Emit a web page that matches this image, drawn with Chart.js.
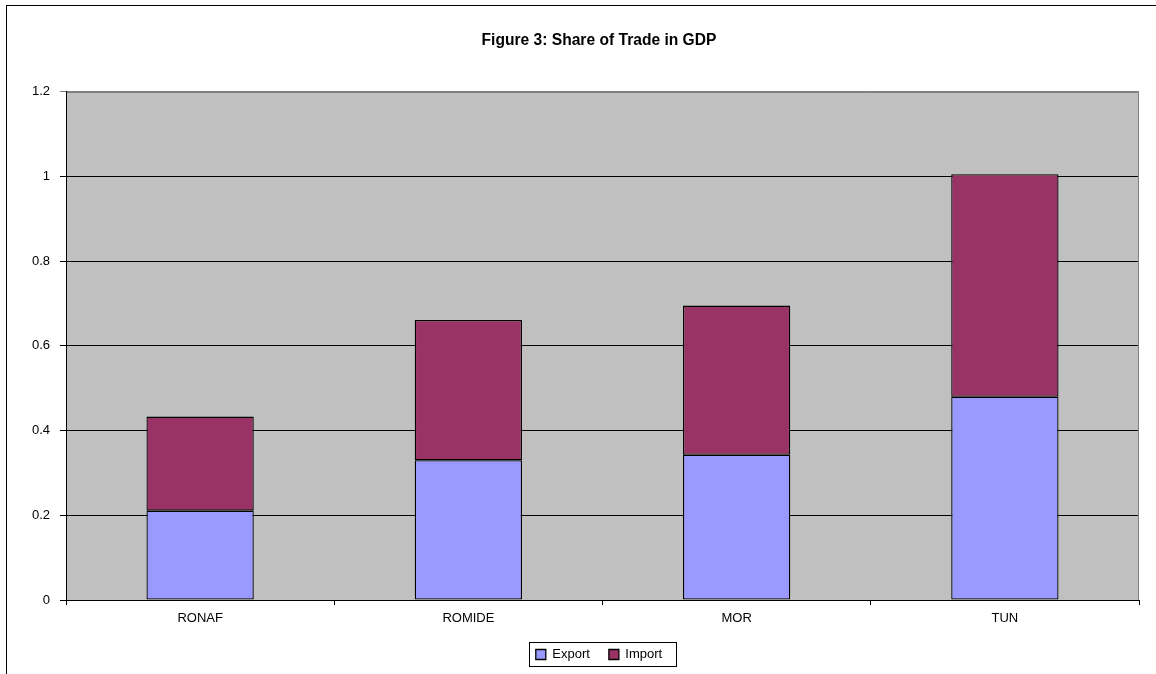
<!DOCTYPE html>
<html>
<head>
<meta charset="utf-8">
<script src="https://cdn.jsdelivr.net/npm/chart.js@4/dist/chart.umd.min.js"></script>
<style>
  html, body { margin: 0; padding: 0; background: #fff; overflow: hidden; }
  #wrap { width: 1197px; height: 674px; }
</style>
</head>
<body>
<div id="wrap"><canvas id="trade" width="1197" height="674"></canvas></div>
<script>
var regions = ['RONAF', 'ROMIDE', 'MOR', 'TUN'];
var exportShare = [0.211, 0.330, 0.343, 0.480];
var importShare = [0.222, 0.331, 0.352, 0.525];

var FONT = "Arial, 'Liberation Sans', sans-serif";

// grey plot background, grey top/right edge, outer frame, legend box
var excelLook = {
  id: 'excelLook',
  beforeDraw: function(chart) {
    var ctx = chart.ctx, a = chart.chartArea;
    ctx.save();
    ctx.fillStyle = '#fff';
    ctx.fillRect(0, 0, chart.width, chart.height);
    ctx.fillStyle = '#c0c0c0';
    ctx.fillRect(a.left, a.top, a.right - a.left, a.bottom - a.top);
    ctx.strokeStyle = '#000';
    ctx.lineWidth = 1;
    ctx.strokeRect(6.5, 5.5, 3000, 3000);
    ctx.restore();
  },
  beforeDatasetsDraw: function(chart) {
    var ctx = chart.ctx, a = chart.chartArea;
    ctx.save();
    ctx.strokeStyle = '#808080';
    ctx.lineWidth = 1;
    ctx.beginPath();
    ctx.moveTo(a.left + 1, Math.round(a.top) + 0.5);
    ctx.lineTo(Math.round(a.right) - 0.5, Math.round(a.top) + 0.5);
    ctx.lineTo(Math.round(a.right) - 0.5, a.bottom);
    ctx.stroke();
    ctx.restore();
  },
  afterDraw: function(chart) {
    var boxes = chart.legend.legendHitBoxes;
    if (!boxes || !boxes.length) return;
    var first = boxes[0], last = boxes[boxes.length - 1];
    var ctx = chart.ctx;
    ctx.save();
    ctx.strokeStyle = '#000';
    ctx.lineWidth = 1;
    var l = Math.round(first.left) - 6.5;
    var r = Math.round(last.left + last.width) + 14.5;
    var t = Math.round(first.top) - 5.5;
    var b = Math.round(first.top + first.height) + 5.5;
    ctx.strokeRect(l, t, r - l, b - t);
    ctx.restore();
  }
};

var ctx = document.getElementById('trade');

var chart = new Chart(ctx, {
  type: 'bar',
  data: {
    labels: regions,
    datasets: [
      {
        label: 'Export',
        data: exportShare,
        backgroundColor: '#9999ff',
        borderColor: '#000',
        borderWidth: 1.3,
        borderSkipped: false
      },
      {
        label: 'Import',
        data: importShare,
        backgroundColor: '#993366',
        borderColor: '#000',
        borderWidth: 1.3,
        borderSkipped: false
      }
    ]
  },
  options: {
    responsive: false,
    animation: false,
    layout: { padding: { left: 20, right: 19, top: 0, bottom: 3 } },
    datasets: { bar: { barPercentage: 0.4, categoryPercentage: 1.0 } },
    scales: {
      x: {
        stacked: true,
        afterFit: function(scale) { scale.height = 29; },
        grid: {
          offset: true,
          drawOnChartArea: false,
          color: '#000',
          tickLength: 5
        },
        border: { color: '#000' },
        ticks: { color: '#000', padding: 6, font: { family: FONT, size: 13 } }
      },
      y: {
        stacked: true,
        min: 0,
        max: 1.2,
        afterFit: function(scale) { scale.width = 46; },
        grid: {
          tickLength: 6,
          color: function(c) { return c.tick && c.tick.value >= 1.19 ? '#808080' : '#000'; }
        },
        border: { color: '#000' },
        ticks: {
          stepSize: 0.2,
          color: '#000',
          padding: 10,
          font: { family: FONT, size: 13 },
          callback: function(v) { return String(Math.round(v * 10) / 10); }
        }
      },
      // empty spacer on the right so title and legend sit a bit right of the plot centre
      spacer: {
        type: 'linear',
        position: 'right',
        min: 0,
        max: 1,
        afterFit: function(scale) { scale.width = 39; },
        grid: { display: false, drawTicks: false },
        border: { display: false },
        ticks: { display: false }
      }
    },
    plugins: {
      title: {
        display: true,
        text: 'Figure 3: Share of Trade in GDP',
        color: '#000',
        font: { family: FONT, size: 15.6, weight: 'bold' },
        padding: { top: 31, bottom: 42 }
      },
      legend: {
        position: 'bottom',
        labels: {
          color: '#000',
          boxWidth: 10,
          boxHeight: 10,
          padding: 19,
          font: { family: FONT, size: 13 }
        }
      },
      tooltip: { enabled: false }
    }
  },
  plugins: [excelLook]
});
</script>
</body>
</html>
